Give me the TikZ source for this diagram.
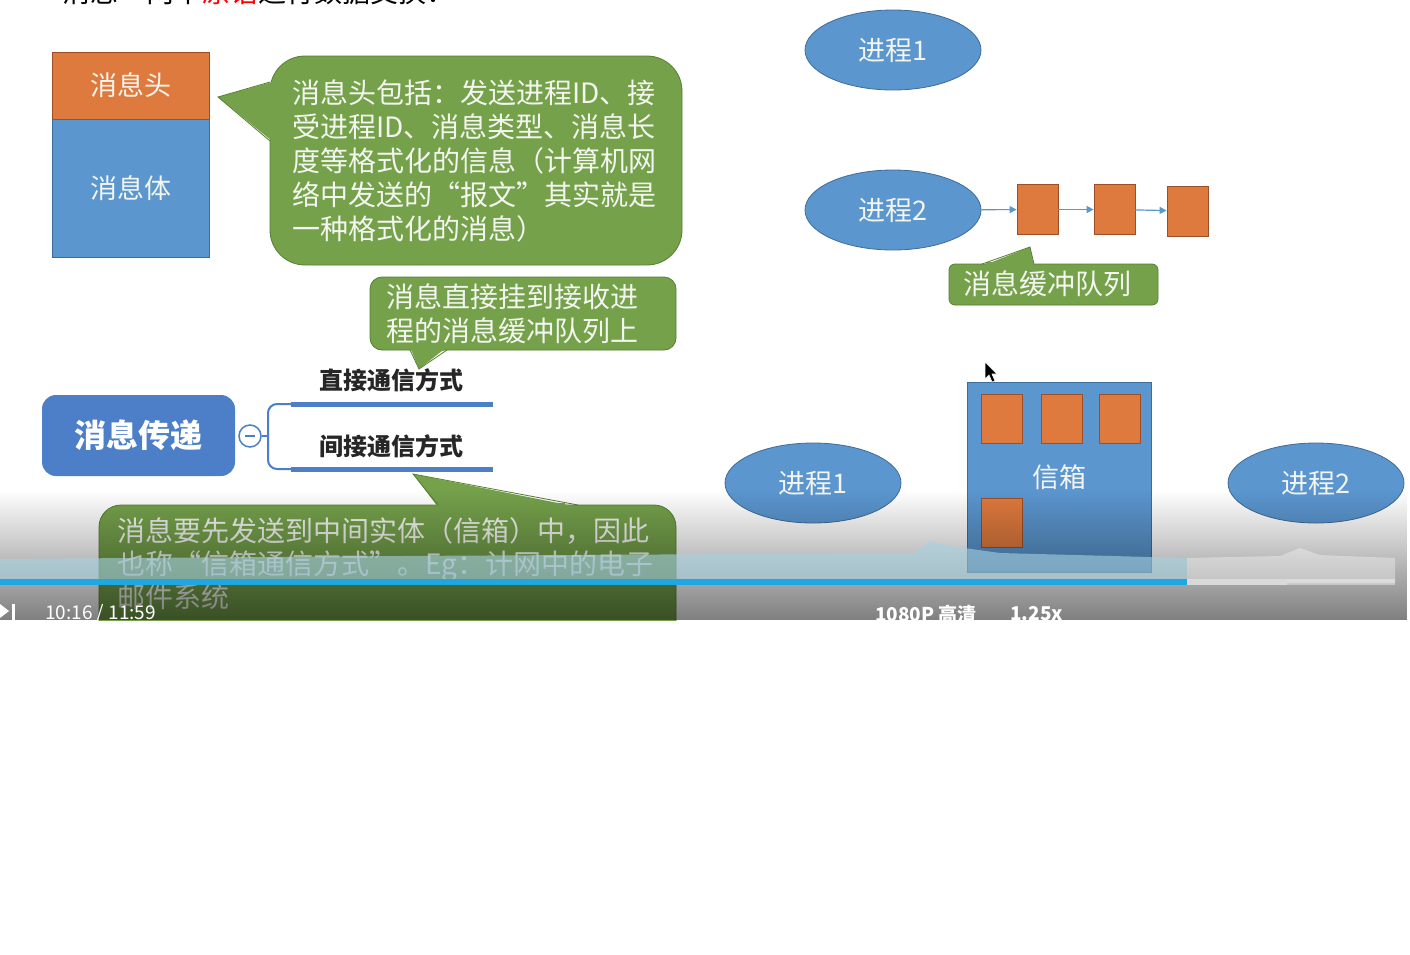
\documentclass[tikz,border=0pt]{standalone}
\usepackage{fontspec}
\setmainfont{Noto Sans CJK SC}
\usetikzlibrary{shapes.geometric,fadings,arrows.meta}
\definecolor{ofill}{HTML}{DF7A3E}
\definecolor{oline}{HTML}{9C4F27}
\definecolor{bfill}{HTML}{5B96CF}
\definecolor{bline}{HTML}{3E6C9A}
\definecolor{gfill}{HTML}{75A14B}
\definecolor{gline}{HTML}{557F33}
\definecolor{mmblue}{HTML}{4C7FC8}
\definecolor{ctext}{HTML}{F3F5EF}
\definecolor{pbar}{HTML}{1FA7E1}
\definecolor{band}{HTML}{A6D2E2}
\newcommand\fsz[2]{\fontsize{#1}{#2}\selectfont}
\begin{document}
\begin{tikzpicture}[x=1pt,y=-1pt,
  headbox/.style={draw=oline,fill=ofill,line width=0.8pt,text=ctext,font=\fsz{27}{32},inner sep=0pt,minimum width=157pt},
  bodybox/.style={draw=bline,fill=bfill,line width=0.8pt,text=ctext,font=\fsz{27}{32},inner sep=0pt,minimum width=157pt},
  callout/.style={fill=gfill,draw=gline,line width=0.8pt,inner sep=0pt},
  tail/.style={fill=gfill},
  tailline/.style={draw=gline,line width=0.8pt},
  ctxt/.style={text=ctext,font=\fsz{28}{34},align=left,inner sep=0pt,anchor=west},
  proc/.style={ellipse,draw=bline,fill=bfill,line width=0.8pt,text=ctext,font=\fsz{27}{32},minimum width=176pt,minimum height=80pt,inner sep=0pt},
  msg/.style={draw=oline,fill=ofill,line width=0.8pt,minimum width=41pt,minimum height=50pt,inner sep=0pt},
  arr/.style={draw=bfill,line width=1.2pt,-{Triangle[length=7pt,width=7pt]}},
  mm/.style={fill=mmblue,rounded corners=14pt,text=white,font=\fsz{32}{38}\bfseries,minimum width=193pt,minimum height=81pt,inner sep=0pt},
  mmline/.style={draw=mmblue,line width=2pt},
  mmbar/.style={draw=mmblue,line width=5pt},
  branch/.style={font=\fsz{24}{28}\bfseries,text=black!85,inner sep=0pt},
  ui/.style={text=white,font=\fsz{19}{22},inner sep=0pt,anchor=west}
]
\useasboundingbox (0,0) rectangle (1410,954);
\fill[white] (0,0) rectangle (1410,954);
\begin{scope}
\clip (0,0) rectangle (1410,620);
% top cut text
\node[anchor=base west,font=\fsz{28}{30},inner sep=0pt] (toptext) at (62,2.5) {消息”两个\textcolor{red}{原语}进行数据交换：};
% message structure
\node[headbox,minimum height=67pt] (head) at (130.5,85.5) {消息头};
\node[bodybox,minimum height=138pt] (body) at (130.5,188) {消息体};
% callout 1
\node[callout,rounded corners=35pt,minimum width=412pt,minimum height=209pt] (note1) at (476,160.5) {};
\fill[tail] (272,82) -- (218,97) -- (272,141) -- cycle;
\fill[gfill] (268.5,84) rectangle (273,138);
\draw[tailline] (270,82) -- (218,97) -- (270,141);
\node[ctxt] (note1t) at (292,161) {消息头包括：发送进程ID、接\\受进程ID、消息类型、消息长\\度等格式化的信息（计算机网\\络中发送的“报文”其实就是\\一种格式化的消息）};
% callout 2
\node[callout,rounded corners=12pt,minimum width=306pt,minimum height=73pt] (note2) at (523,313.5) {};
\fill[tail] (410,347) -- (419,369) -- (447,347) -- cycle;
\fill[gfill] (412,348) rectangle (444,351);
\draw[tailline] (410,350) -- (419,369) -- (447,350);
\node[ctxt] (note2t) at (386,314) {消息直接挂到接收进\\程的消息缓冲队列上};
% mind map
\node[mm] (root) at (138.5,435.5) {消息传递};
\node[circle,draw=mmblue,fill=white,line width=1.5pt,minimum size=22pt,inner sep=0pt] (fold) at (250,436) {};
\draw[mmblue,line width=1.5pt] (fold.center) ++(-5,0) -- ++(10,0);
\coordinate (j) at (268,436);
\coordinate (b1) at (291,404);
\coordinate (b2) at (291,469);
\coordinate (e1) at (493,404);
\coordinate (e2) at (493,469);
\draw[mmline] (fold.east) -- (j);
\draw[mmline,rounded corners=9pt] (b1) -- (268,404) -- (268,469) -- (b2);
\draw[mmbar] (b1) -- (e1);
\draw[mmbar] (b2) -- (e2);
\node[branch] (direct) at (391,380) {直接通信方式};
\node[branch] (indirect) at (391,446) {间接通信方式};
% callout 3
\node[callout,rounded corners=22pt,minimum width=577pt,minimum height=150pt] (note3) at (387.5,580) {};
\fill[tail] (438,507) -- (413,474) -- (578,507) -- cycle;
\fill[gfill] (440,503) rectangle (565,507.5);
\draw[tailline] (438,505) -- (413,474) -- (578,505);
\node[ctxt,font=\fsz{28}{33}] (note3t) at (117,564) {消息要先发送到中间实体（信箱）中，因此\\也称“信箱通信方式”。Eg：计网中的电子\\邮件系统};
% direct communication
\node[proc] (pa) at (893,50) {进程1};
\node[proc] (pb) at (893,210) {进程2};
\node[msg] (q1) at (1037.5,209.5) {};
\node[msg] (q2) at (1114.5,209.5) {};
\node[msg] (q3) at (1187.5,211) {};
\draw[arr] (pb) -- (q1);
\draw[arr] (q1) -- (q2);
\draw[arr] (q2) -- (q3);
\node[callout,rounded corners=6pt,minimum width=209pt,minimum height=41pt] (qnote) at (1053.5,284.5) {};
\fill[tail] (982,266) -- (1030,247) -- (1034,266) -- cycle;
\fill[gfill] (986,262) rectangle (1032,266);
\draw[tailline] (982,264) -- (1030,247) -- (1034,264);
\node[text=ctext,font=\fsz{28}{32},inner sep=0pt] (qnotet) at (1047,284) {消息缓冲队列};
% indirect communication
\node[proc] (pc) at (813,483) {进程1};
\node[draw=bline,fill=bfill,line width=0.8pt,minimum width=184pt,minimum height=190pt,inner sep=0pt,text=ctext,font=\fsz{27}{32}] (mbox) at (1059,477) {信箱};
\node[msg,minimum height=49pt] (m1) at (1001.5,418.5) {};
\node[msg,minimum height=49pt] (m2) at (1061.5,418.5) {};
\node[msg,minimum height=49pt] (m3) at (1120,418.5) {};
\node[msg,minimum height=49pt] (m4) at (1001.5,523) {};
\node[proc] (pd) at (1316,483) {进程2};
% cursor
\filldraw[fill=black,draw=white,line width=0.6pt] (985,362) -- (985,379) -- (989,375) -- (992,382) -- (995,381) -- (992,374) -- (997,374) -- cycle;
% video player overlay
\fill[black,fill opacity=0.5,path fading=north] (0,490) rectangle (1410,620);
\fill[band,fill opacity=0.6] (0,583) -- (0,559) -- (400,556) -- (915,553) -- (930,541) -- (950,546) -- (1000,553) -- (1187,558) -- (1187,583) -- cycle;
\fill[white,fill opacity=0.35] (1187,583) -- (1187,558) -- (1280,556) -- (1300,548) -- (1320,555) -- (1395,558) -- (1395,583) -- cycle;
\fill[pbar] (0,579) rectangle (1187,585);
\fill[white!85!black] (1187,579) rectangle (1287,585);
\fill[white,fill opacity=0.4] (1287,579) rectangle (1395,585);
\fill[white] (0,604) -- (9,611) -- (0,618) -- cycle;
\fill[white] (12,604) rectangle (15,620);
\node[ui] (time) at (45,614) {10:16 / 11:59};
\node[ui,font=\fsz{19}{22}\bfseries] (quality) at (875,614) {1080P 高清};
\node[ui,font=\fsz{19}{22}\bfseries] (speed) at (1010,614) {1.25x};
\end{scope}
\end{tikzpicture}
\end{document}
